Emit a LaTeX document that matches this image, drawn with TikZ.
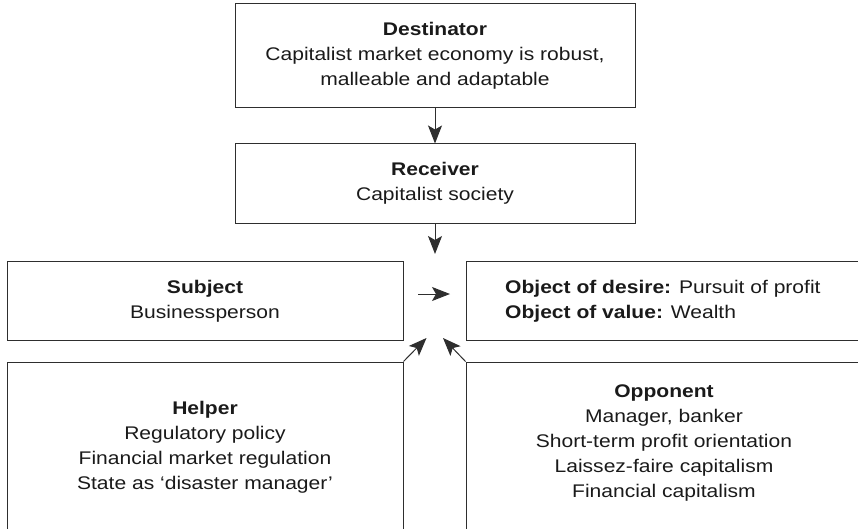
\documentclass[tikz,border=0pt]{standalone}
\usepackage{fontspec}
\setmainfont{Liberation Sans}[FakeStretch=1.15]
\usetikzlibrary{arrows.meta}
\definecolor{ink}{HTML}{1A1A1A}
\definecolor{rule}{HTML}{2E2E2E}
\begin{document}
\begin{tikzpicture}[x=1pt,y=-1pt,
  box/.style={draw=rule,line width=1pt,rectangle,inner sep=0pt,text=ink,align=center,
    font=\fontsize{18.3}{25}\selectfont},
  txt/.style={inner sep=0pt,text=ink,font=\fontsize{18.3}{25}\selectfont},
  arr/.style={draw=rule,line width=1pt,-{Stealth[length=18pt,width=14pt,inset=4pt]}}]
\clip (0,0) rectangle (858,529);
\useasboundingbox (0,0) rectangle (858,529);
% boxes
\node[box,minimum width=400pt,minimum height=104pt] (dest) at (435,56)
  {\textbf{Destinator}\\Capitalist market economy is robust,\\malleable and adaptable};
\node[box,minimum width=400pt,minimum height=79pt] (recv) at (435,183.5)
  {\textbf{Receiver}\\Capitalist society};
\node[box,minimum width=396pt,minimum height=79pt] (subj) at (205,301)
  {\textbf{Subject}\\Businessperson};
\node[box,minimum width=400pt,minimum height=79pt] (obj) at (666,301) {};
\node[box,minimum width=396pt,minimum height=190pt] (help) at (205,457) {};
\node[box,minimum width=400pt,minimum height=190pt] (opp) at (666,457) {};
% texts
\node[txt,anchor=west,align=left] (objtxt) at (505,301)
  {\textbf{Object of desire:} Pursuit of profit\\\textbf{Object of value:} Wealth};
\node[txt,align=center] (helptxt) at (205,447)
  {\textbf{Helper}\\Regulatory policy\\Financial market regulation\\State as ‘disaster manager’};
\node[txt,align=center] (opptxt) at (664,443)
  {\textbf{Opponent}\\Manager, banker\\Short-term profit orientation\\Laissez-faire capitalism\\Financial capitalism};
% connector ends
\coordinate (c1) at (435,254);
\coordinate (h1) at (418,294);
\coordinate (h2) at (450,294);
\coordinate (d1) at (426.5,338);
\coordinate (d2) at (443,338);
% arrows
\draw[arr] (dest.south) -- (recv.north);
\draw[arr] (recv.south) -- (c1);
\draw[arr] (h1) -- (h2);
\draw[arr] (help.north east) -- (d1);
\draw[arr] (opp.north west) -- (d2);
\end{tikzpicture}
\end{document}
